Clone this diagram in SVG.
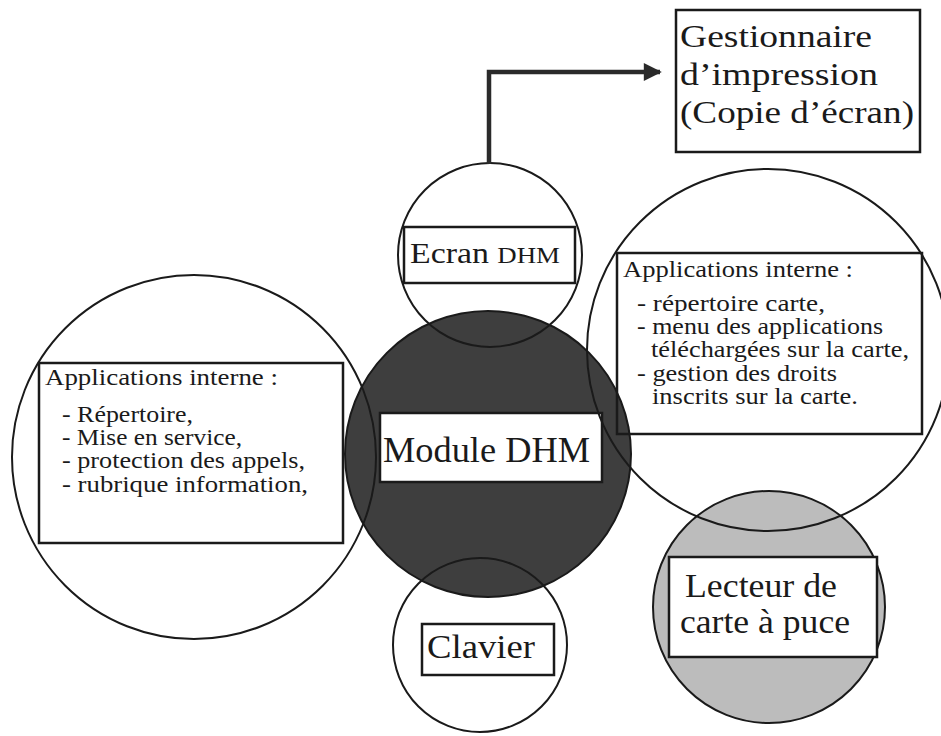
<svg xmlns="http://www.w3.org/2000/svg" width="941" height="736" viewBox="0 0 941 736">
<defs>
<style>
.ring{fill:none;stroke:#1a1a1a;stroke-width:2}
.box{fill:none;stroke:#1a1a1a;stroke-width:2.5}
.wbox{fill:#ffffff;stroke:#1a1a1a;stroke-width:2.5}
.t{font-family:"Liberation Serif","Times New Roman",serif;fill:#1a1a1a}
.s{font-size:22.5px}
.m{font-size:31px}
.l{font-size:33px}
.link{fill:none;stroke:#2a2a2a;stroke-width:4.5}
</style>
<marker id="arrow" viewBox="0 0 10 10" refX="9" refY="5" markerWidth="4.4" markerHeight="4" orient="auto" markerUnits="strokeWidth">
<path d="M0,0 L10,5 L0,10 Z" fill="#2a2a2a"/>
</marker>
</defs>
<rect width="941" height="736" fill="#ffffff"/>

<g id="module">
<circle cx="488" cy="454" r="143" fill="#3e3e3e" stroke="#1a1a1a" stroke-width="2"/>
<rect class="wbox" x="380" y="413" width="222" height="69"/>
<text class="t" x="383" y="462" font-size="35" textLength="207" lengthAdjust="spacingAndGlyphs">Module DHM</text>
</g>

<g id="lecteur">
<circle cx="769" cy="607" r="116" fill="#bcbcbc" stroke="#1a1a1a" stroke-width="2"/>
<rect class="wbox" x="669" y="557" width="208" height="100"/>
<text class="t l" x="685" y="597" textLength="152" lengthAdjust="spacingAndGlyphs">Lecteur de</text>
<text class="t l" x="680" y="633" textLength="170" lengthAdjust="spacingAndGlyphs">carte à puce</text>
</g>

<g id="applications-gauche">
<circle class="ring" cx="194" cy="457" r="182"/>
<rect class="box" x="39" y="363" width="304" height="180"/>
<text class="t s" x="45" y="385" textLength="233" lengthAdjust="spacingAndGlyphs">Applications interne :</text>
<text class="t s" x="62" y="422" textLength="131" lengthAdjust="spacingAndGlyphs">- Répertoire,</text>
<text class="t s" x="62" y="445" textLength="180" lengthAdjust="spacingAndGlyphs">- Mise en service,</text>
<text class="t s" x="62" y="468" textLength="243" lengthAdjust="spacingAndGlyphs">- protection des appels,</text>
<text class="t s" x="62" y="492" textLength="246" lengthAdjust="spacingAndGlyphs">- rubrique information,</text>
</g>

<g id="applications-droite">
<circle class="ring" cx="768" cy="350" r="181"/>
<rect class="box" x="617" y="253" width="305" height="181"/>
<text class="t s" x="623" y="277" textLength="230" lengthAdjust="spacingAndGlyphs">Applications interne :</text>
<text class="t s" x="637" y="311" textLength="188" lengthAdjust="spacingAndGlyphs">- répertoire carte,</text>
<text class="t s" x="637" y="334" textLength="246" lengthAdjust="spacingAndGlyphs">- menu des applications</text>
<text class="t s" x="651" y="357" textLength="258" lengthAdjust="spacingAndGlyphs">téléchargées sur la carte,</text>
<text class="t s" x="637" y="381" textLength="200" lengthAdjust="spacingAndGlyphs">- gestion des droits</text>
<text class="t s" x="652" y="404" textLength="206" lengthAdjust="spacingAndGlyphs">inscrits sur la carte.</text>
</g>

<g id="ecran">
<circle class="ring" cx="490" cy="255" r="92"/>
<rect class="wbox" x="404" y="227" width="171" height="56"/>
<text class="t" x="410" y="263" font-size="29" textLength="150" lengthAdjust="spacingAndGlyphs">Ecran <tspan font-size="23">DHM</tspan></text>
</g>

<g id="clavier">
<circle class="ring" cx="480" cy="645" r="87"/>
<rect class="wbox" x="422" y="624" width="132" height="51"/>
<text class="t l" x="427" y="658" textLength="108" lengthAdjust="spacingAndGlyphs">Clavier</text>
</g>

<g id="gestionnaire">
<rect class="wbox" x="676" y="10" width="244" height="142"/>
<text class="t m" x="680" y="47" textLength="192" lengthAdjust="spacingAndGlyphs">Gestionnaire</text>
<text class="t m" x="680" y="85" textLength="198" lengthAdjust="spacingAndGlyphs">d’impression</text>
<text class="t m" x="680" y="123" textLength="234" lengthAdjust="spacingAndGlyphs">(Copie d’écran)</text>
</g>

<g id="connectors">
<path class="link" d="M489,164 V72 H660" marker-end="url(#arrow)"/>
</g>
</svg>
